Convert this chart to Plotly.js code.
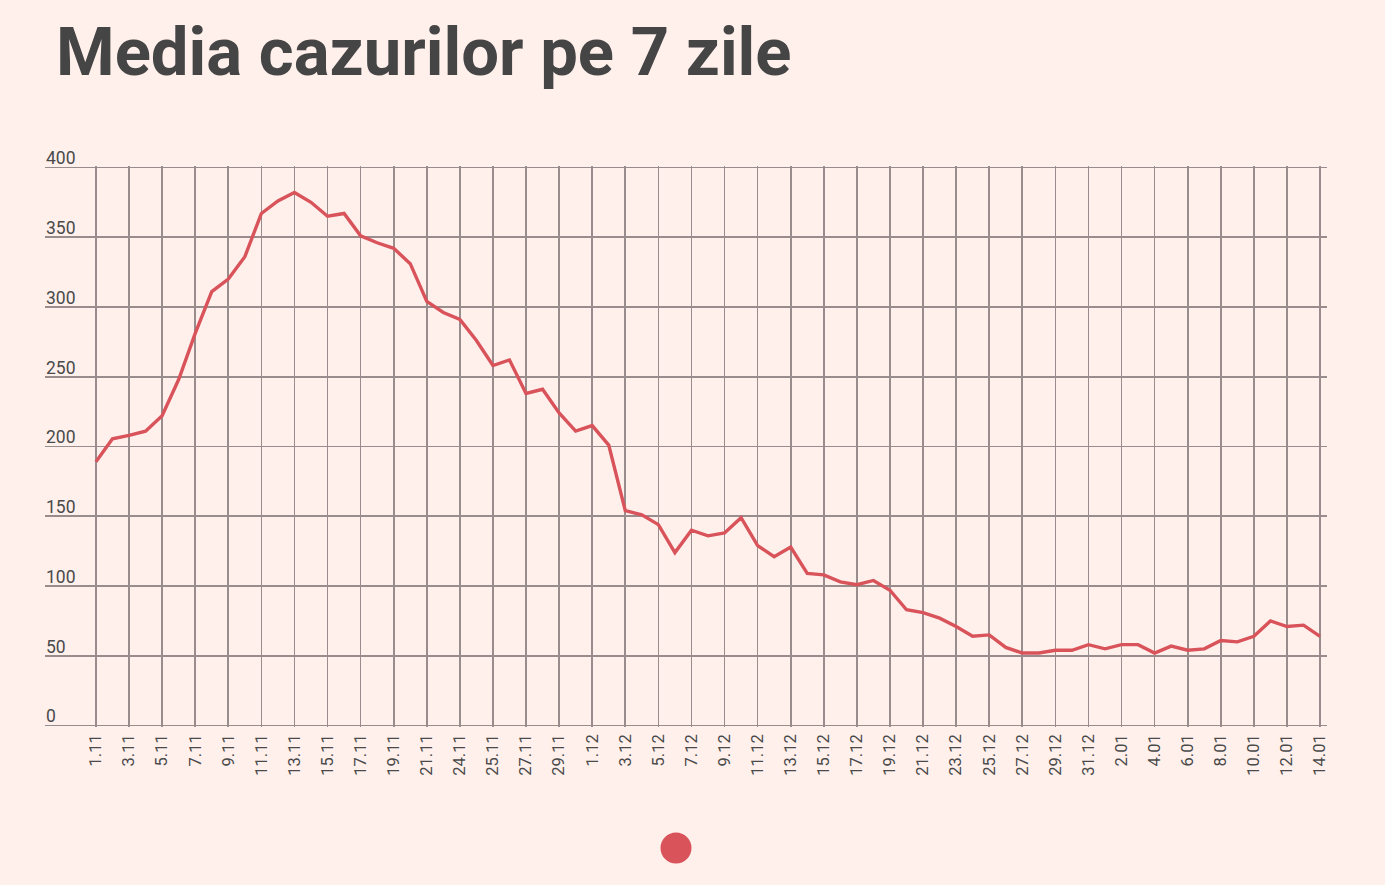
<!DOCTYPE html>
<html>
<head>
<meta charset="utf-8">
<script src="https://cdn.plot.ly/plotly-3.0.1.min.js"></script>
<style>
  html, body { margin: 0; padding: 0; background: #fff0ec; }
  #chart { width: 1385px; height: 885px; }
</style>
</head>
<body>
<div id="chart"></div>
<script>
const dates = [
  "1.11","2.11","3.11","4.11","5.11","6.11","7.11","8.11","9.11","10.11",
  "11.11","12.11","13.11","14.11","15.11","16.11","17.11","18.11","19.11","20.11",
  "21.11","22.11","23.11","24.11","25.11","26.11","27.11","28.11","29.11","30.11",
  "1.12","2.12","3.12","4.12","5.12","6.12","7.12","8.12","9.12","10.12",
  "11.12","12.12","13.12","14.12","15.12","16.12","17.12","18.12","19.12","20.12",
  "21.12","22.12","23.12","24.12","25.12","26.12","27.12","28.12","29.12","30.12",
  "31.12","1.01","2.01","3.01","4.01","5.01","6.01","7.01","8.01","9.01",
  "10.01","11.01","12.01","13.01","14.01"
];
const media7 = [
  189, 205.5, 208, 211, 222, 248, 281, 311, 320, 336,
  367, 376, 382, 375, 365, 367, 351, 346, 342, 331,
  304, 296, 291, 276, 258, 262, 238, 241, 224, 211,
  215, 201, 154, 151, 144, 124, 140, 136, 138, 149,
  129, 121, 128, 109, 108, 103, 101, 104, 97, 83,
  81, 77, 71, 64, 65, 56, 52, 52, 54, 54,
  58, 55, 58, 58, 52, 57, 54, 55, 61, 60,
  64, 75, 71, 72, 64
];
const tickCategories = [
  "1.11","3.11","5.11","7.11","9.11","11.11","13.11","15.11","17.11","19.11",
  "21.11","23.11","25.11","27.11","29.11","1.12","3.12","5.12","7.12","9.12",
  "11.12","13.12","15.12","17.12","19.12","21.12","23.12","25.12","27.12","29.12",
  "31.12","2.01","4.01","6.01","8.01","10.01","12.01","14.01"
];
const tickLabels = [
  "1.11","3.11","5.11","7.11","9.11","11.11","13.11","15.11","17.11","19.11",
  "21.11","24.11","25.11","27.11","29.11","1.12","3.12","5.12","7.12","9.12",
  "11.12","13.12","15.12","17.12","19.12","21.12","23.12","25.12","27.12","29.12",
  "31.12","2.01","4.01","6.01","8.01","10.01","12.01","14.01"
];
const yTicks = [0, 50, 100, 150, 200, 250, 300, 350, 400];
const titleText = "Media cazurilor pe 7 zile";

const bg = "#fff0ec";
const gridColor = "#988c8c";
const lineColor = "#d9535b";
const labelColor = "#4a4a4a";
const yRange = [-1, 401];

const trace = {
  type: "scatter",
  mode: "lines",
  x: dates,
  y: media7,
  line: { color: lineColor, width: 3.4 },
  hoverinfo: "x+y"
};
// same series bound to the label axis (invisible) so that axis is drawn
const labelTrace = {
  type: "scatter",
  mode: "lines",
  x: dates,
  y: media7,
  yaxis: "y2",
  opacity: 0,
  line: { color: lineColor, width: 0 },
  hoverinfo: "skip",
  showlegend: false
};

const layout = {
  width: 1385,
  height: 885,
  paper_bgcolor: bg,
  plot_bgcolor: bg,
  margin: { l: 45, r: 58, t: 166, b: 158 },
  showlegend: false,
  title: {
    text: titleText,
    xref: "container", yref: "container",
    x: 56 / 1385, xanchor: "left",
    y: 1 - 28 / 885, yanchor: "top",
    font: { family: "Roboto, 'Noto Sans', sans-serif", size: 67, color: "#454545", weight: 700 }
  },
  xaxis: {
    type: "category",
    categoryarray: dates,
    range: [-3.08, 74.42],
    tickmode: "array",
    tickvals: tickCategories,
    ticktext: tickLabels,
    tickangle: -90,
    ticks: "",
    ticklabelstandoff: 3,
    showgrid: true,
    gridcolor: gridColor,
    gridwidth: 1.6,
    zeroline: false,
    showline: false,
    tickfont: { family: "Roboto, sans-serif", size: 16.5, color: labelColor },
    fixedrange: true
  },
  yaxis: {
    range: yRange,
    tickmode: "array",
    tickvals: yTicks,
    showticklabels: false,
    ticks: "",
    showgrid: true,
    gridcolor: gridColor,
    gridwidth: 1.6,
    zeroline: false,
    showline: false,
    fixedrange: true
  },
  yaxis2: {
    overlaying: "y",
    anchor: "free",
    position: 0,
    side: "right",
    range: yRange,
    tickmode: "array",
    tickvals: yTicks,
    ticktext: yTicks.map(String),
    ticklabelposition: "outside top",
    ticklabelshift: 3,
    ticks: "",
    showgrid: false,
    zeroline: false,
    showline: false,
    tickfont: { family: "Roboto, sans-serif", size: 17.5, color: labelColor },
    fixedrange: true
  },
  shapes: [{
    type: "circle",
    xref: "paper", yref: "paper",
    xsizemode: "pixel", ysizemode: "pixel",
    xanchor: (676 - 45) / 1282, yanchor: (726 - 847) / 561,
    x0: -15.5, x1: 15.5, y0: -15.5, y1: 15.5,
    fillcolor: lineColor,
    line: { width: 0 }
  }]
};

Plotly.newPlot("chart", [labelTrace, trace], layout, { displayModeBar: false, staticPlot: true });
</script>
</body>
</html>
